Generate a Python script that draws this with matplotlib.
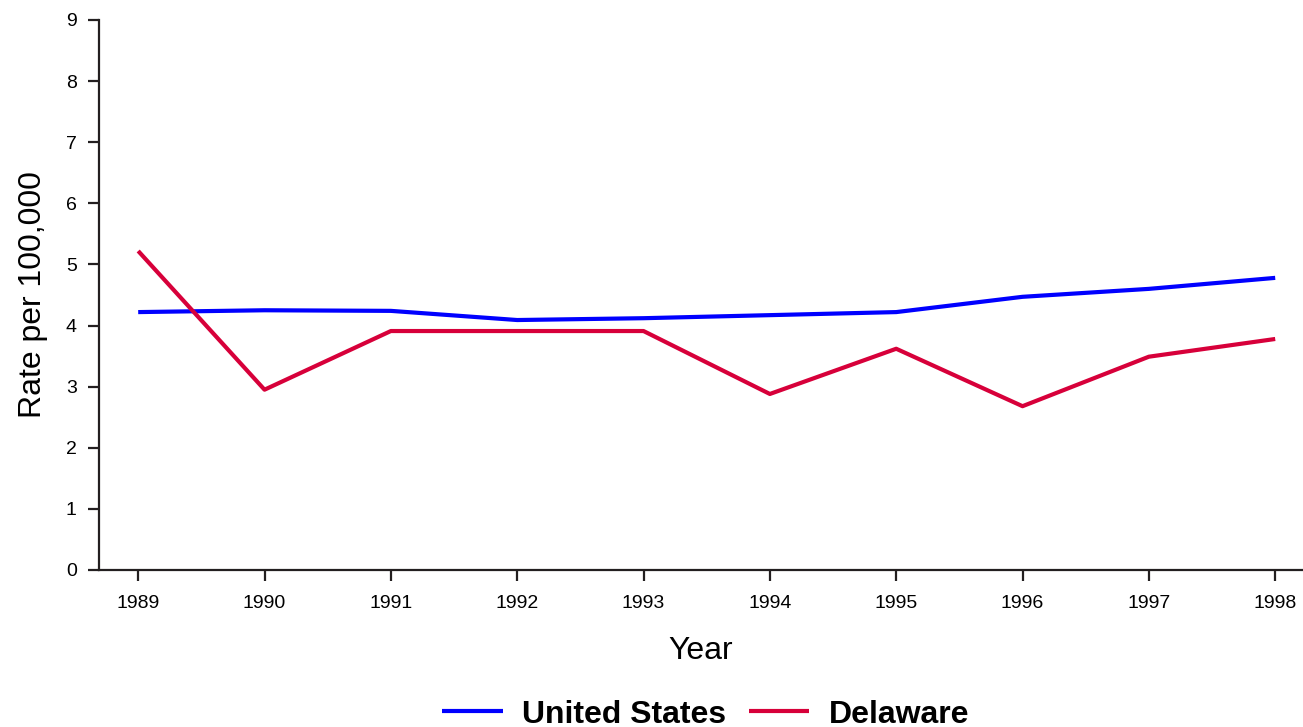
import numpy as np
import matplotlib
matplotlib.use('Agg')
import matplotlib.pyplot as plt

plt.rcParams['font.family'] = ['Liberation Sans', 'DejaVu Sans']

# data
years = [1989, 1990, 1991, 1992, 1993, 1994, 1995, 1996, 1997, 1998]
us_rate = [4.22, 4.25, 4.24, 4.09, 4.12, 4.17, 4.22, 4.47, 4.60, 4.78]
de_rate = [5.22, 2.95, 3.91, 3.91, 3.91, 2.88, 3.62, 2.68, 3.49, 3.78]
y_ticks = list(range(0, 10))

fig = plt.figure(figsize=(13.03, 7.27), dpi=100)
ax = fig.add_axes([0.076, 0.216, 0.924, 0.7565])

ax.plot(years, us_rate, color='#0000ff', lw=3, label='United States', solid_capstyle='butt')
ax.plot(years, de_rate, color='#d7003a', lw=3, label='Delaware', solid_capstyle='butt')

ax.set_xlim(1988.69, 1998.22)
ax.set_ylim(0, 9)
ax.set_xticks(years)
ax.set_yticks(y_ticks)
ax.tick_params(axis='both', labelsize=14, length=8, width=1.6, color='#231f20')
ax.tick_params(axis='x', pad=10)
ax.tick_params(axis='y', pad=8)

for s in ['top', 'right']:
    ax.spines[s].set_visible(False)
for s in ['left', 'bottom']:
    ax.spines[s].set_linewidth(1.6)
    ax.spines[s].set_color('#231f20')

ax.set_ylabel('Rate per 100,000', fontsize=23, labelpad=13)
ax.set_xlabel('Year', fontsize=23, labelpad=17)

fig.legend(loc='center', bbox_to_anchor=(0.5415, 0.017), ncol=2, frameon=False,
           prop={'weight': 'bold', 'size': 23}, handlelength=1.9, columnspacing=0.7,
           handletextpad=0.6)

fig.savefig('out.png', dpi=100)
